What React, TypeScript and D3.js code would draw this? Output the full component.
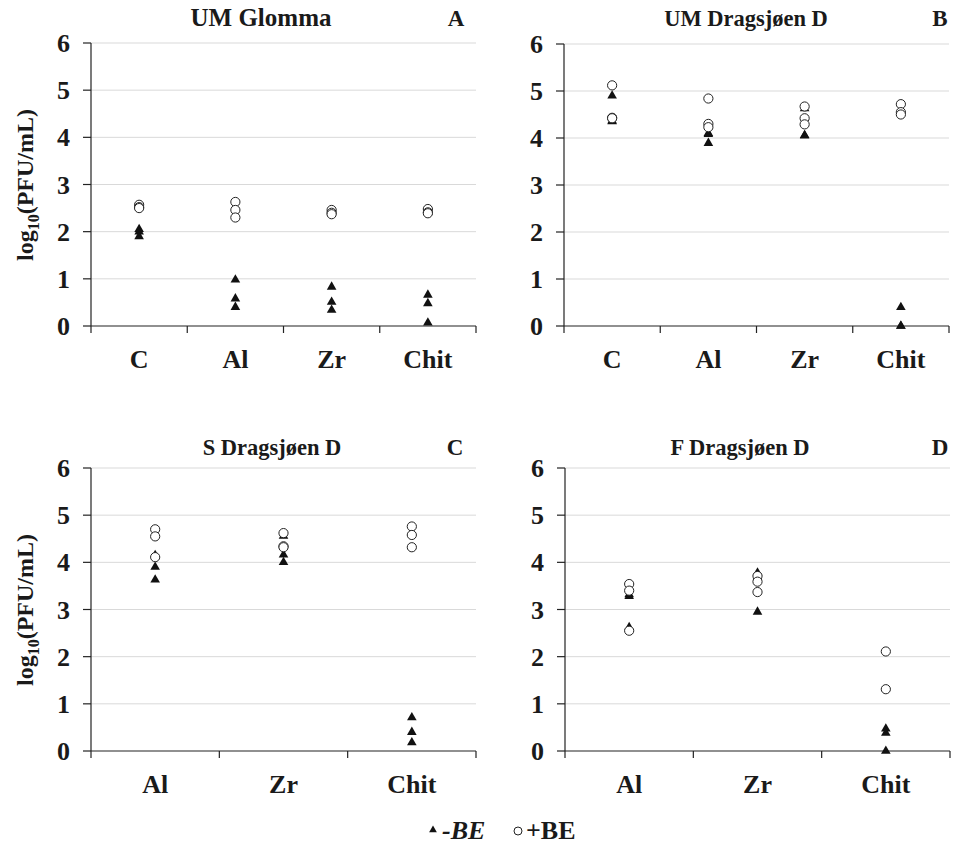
import React from "react";
import * as d3 from "d3";

const catsTop = ["C", "Al", "Zr", "Chit"];
const catsBottom = ["Al", "Zr", "Chit"];
const yTicks = [0, 1, 2, 3, 4, 5, 6];

const minusA = [[2.05, 2.0, 1.9], [0.98, 0.58, 0.4], [0.83, 0.51, 0.34], [0.66, 0.48, 0.07]];
const plusA = [[2.57, 2.52, 2.5], [2.63, 2.46, 2.3], [2.46, 2.4, 2.37], [2.48, 2.41, 2.39]];

const minusB = [[4.9, 4.37, 4.35], [4.1, 4.08, 3.89], [4.63, 4.06, 4.05], [0.4, 0.0, 0.0]];
const plusB = [[5.12, 4.43, 4.42], [4.84, 4.3, 4.23], [4.67, 4.42, 4.29], [4.72, 4.55, 4.5]];

const minusC = [[4.15, 3.9, 3.63], [4.56, 4.16, 4.0], [0.71, 0.4, 0.18]];
const plusC = [[4.7, 4.55, 4.11], [4.62, 4.34, 4.32], [4.76, 4.58, 4.32]];

const minusD = [[3.32, 3.28, 2.62], [3.78, 3.7, 2.95], [0.47, 0.38, 0.0]];
const plusD = [[3.54, 3.4, 2.55], [3.71, 3.59, 3.37], [2.11, 1.31]];

const titles = ["UM Glomma", "UM Dragsjøen D", "S Dragsjøen D", "F Dragsjøen D"];
const letters = ["A", "B", "C", "D"];

const FONT = "'Liberation Serif', 'Times New Roman', serif";

type PanelProps = {
  x0: number; x1: number; y0: number; y1: number;
  cats: string[]; minus: number[][]; plus: number[][];
  title: string; titleX: number; titleSize: number; titleDy: number; letter: string; letterX: number;
};

const tri = d3.symbol().type(d3.symbolTriangle).size(40)() as string;

function Panel(p: PanelProps) {
  const x = d3.scaleBand<string>().domain(p.cats).range([p.x0, p.x1]);
  const y = d3.scaleLinear().domain([0, 6]).range([p.y1, p.y0]);
  const bw = x.bandwidth();
  const tickXs = p.cats.map((c) => x(c) as number).concat([p.x1]);
  return (
    <g>
      {yTicks.filter((t) => t > 0).map((t) => (
        <line key={"g" + t} x1={p.x0} x2={p.x1} y1={y(t)} y2={y(t)} stroke="#d9d9d9" strokeWidth={1} />
      ))}
      <line x1={p.x0} x2={p.x0} y1={y(6)} y2={y(0)} stroke="#222" strokeWidth={1.2} />
      <line x1={p.x0} x2={p.x1} y1={y(0)} y2={y(0)} stroke="#222" strokeWidth={1.2} />
      {yTicks.map((t) => (
        <g key={"yt" + t}>
          <line x1={p.x0 - 8} x2={p.x0} y1={y(t)} y2={y(t)} stroke="#222" strokeWidth={1.2} />
          <text x={p.x0 - 21} y={y(t) + 9} textAnchor="end" fontFamily={FONT} fontWeight="bold" fontSize={26} fill="#1a1a1a">{t}</text>
        </g>
      ))}
      {tickXs.map((tx, i) => (
        <line key={"xt" + i} x1={tx} x2={tx} y1={y(0)} y2={y(0) + 7} stroke="#222" strokeWidth={1.2} />
      ))}
      {p.cats.map((c) => (
        <text key={"xl" + c} x={(x(c) as number) + bw / 2} y={y(0) + 42} textAnchor="middle" fontFamily={FONT} fontWeight="bold" fontSize={26} fill="#1a1a1a">{c}</text>
      ))}
      {p.minus.map((vals, i) =>
        vals.map((v, j) => (
          <path key={"m" + i + "_" + j} d={tri} transform={`translate(${(x(p.cats[i]) as number) + bw / 2},${y(v)})`} fill="#111" />
        ))
      )}
      {p.plus.map((vals, i) =>
        vals.map((v, j) => (
          <circle key={"p" + i + "_" + j} cx={(x(p.cats[i]) as number) + bw / 2} cy={y(v)} r={4.6} fill="#fff" stroke="#222" strokeWidth={1} />
        ))
      )}
      <text x={p.titleX} y={p.y0 - p.titleDy} textAnchor="middle" fontFamily={FONT} fontWeight="bold" fontSize={p.titleSize} fill="#1a1a1a">{p.title}</text>
      <text x={p.letterX} y={p.y0 - p.titleDy} textAnchor="middle" fontFamily={FONT} fontWeight="bold" fontSize={23} fill="#1a1a1a">{p.letter}</text>
    </g>
  );
}

function YLabel({ cy }: { cy: number }) {
  return (
    <text transform={`translate(33,${cy}) rotate(-90)`} textAnchor="middle" fontFamily={FONT} fontWeight="bold" fontSize={24} fill="#1a1a1a">
      log<tspan fontSize={16} dy={6}>10</tspan><tspan dy={-6}>(PFU/mL)</tspan>
    </text>
  );
}

export default function App() {
  return (
    <svg width={954} height={849} style={{ position: "absolute", left: 0, top: 0, background: "#fff" }}>
      <rect width={954} height={849} fill="#fff" />
      <Panel x0={91} x1={476} y0={43} y1={326} cats={catsTop} minus={minusA} plus={plusA} title={titles[0]} titleX={261} titleSize={25} titleDy={17} letter={letters[0]} letterX={456} />
      <Panel x0={564} x1={949} y0={44} y1={326} cats={catsTop} minus={minusB} plus={plusB} title={titles[1]} titleX={746} titleSize={22.5} titleDy={18} letter={letters[1]} letterX={940} />
      <Panel x0={91} x1={476} y0={468} y1={751} cats={catsBottom} minus={minusC} plus={plusC} title={titles[2]} titleX={272} titleSize={22.5} titleDy={13} letter={letters[2]} letterX={455} />
      <Panel x0={565} x1={950} y0={468} y1={751} cats={catsBottom} minus={minusD} plus={plusD} title={titles[3]} titleX={740} titleSize={22.5} titleDy={13} letter={letters[3]} letterX={940} />
      <YLabel cy={185} />
      <YLabel cy={610} />
      <g>
        <path d={d3.symbol().type(d3.symbolTriangle).size(26)() as string} transform="translate(433,830)" fill="#111" />
        <text x={442} y={839} fontFamily={FONT} fontWeight="bold" fontStyle="italic" fontSize={26} fill="#1a1a1a">-BE</text>
        <circle cx={518} cy={831} r={4} fill="#fff" stroke="#222" strokeWidth={1} />
        <text x={526} y={839} fontFamily={FONT} fontWeight="bold" fontSize={26} fill="#1a1a1a">+BE</text>
      </g>
    </svg>
  );
}
